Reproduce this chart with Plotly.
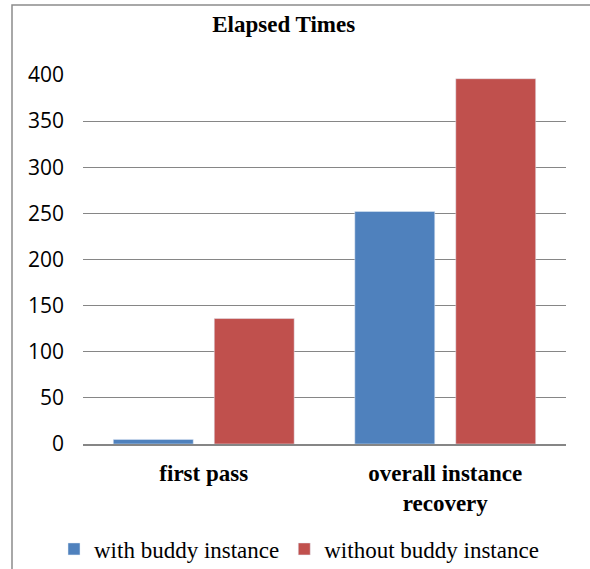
import plotly.graph_objects as go

categories = ["first pass", "overall instance recovery"]
category_labels = ["first pass", "overall instance<br>recovery"]
with_buddy = [5, 252]
without_buddy = [136, 396]
y_ticks = [0, 50, 100, 150, 200, 250, 300, 350, 400]

W, H = 590, 569
L, R, T, B = 83, 24, 75, 125
pw = W - L - R
ph = H - T - B

def px_x(x):
    return (x - L) / pw

def px_y(y):
    return (H - B - y) / ph

fig = go.Figure()
fig.add_trace(go.Bar(name="with buddy instance", x=categories, y=with_buddy,
                     marker=dict(color="#4F81BD")))
fig.add_trace(go.Bar(name="without buddy instance", x=categories, y=without_buddy,
                     marker=dict(color="#C0504D")))

fig.update_layout(
    width=W, height=H,
    margin=dict(l=L, r=R, t=T, b=B, autoexpand=False),
    paper_bgcolor="white", plot_bgcolor="white",
    barmode="group", bargap=0.164, bargroupgap=0.208,
    title=dict(text="Elapsed Times", x=283.7 / W, xanchor="center",
               xref="container", y=1 - 24 / H, yanchor="middle", yref="container",
               font=dict(family="Liberation Serif", size=23, color="black", weight="bold")),
    showlegend=True,
    legend=dict(orientation="h", xref="paper", x=px_x(54), xanchor="left",
                yref="paper", y=px_y(549), yanchor="middle",
                font=dict(family="Liberation Serif", size=23, color="black"),
                itemwidth=30, traceorder="normal", bgcolor="rgba(0,0,0,0)"),
    xaxis=dict(tickmode="array", tickvals=categories, ticktext=category_labels,
               tickfont=dict(family="Liberation Serif", size=23, color="black", weight="bold"),
               showline=True, linecolor="#868686", linewidth=1.5,
               ticks="", showgrid=False, ticklabelstandoff=8),
    yaxis=dict(range=[0, 400], tickmode="array", tickvals=y_ticks,
               tickfont=dict(family="Open Sans", size=21, color="black"),
               showgrid=True, gridcolor="#868686", gridwidth=1.3,
               zeroline=False, showline=False, ticks="", ticklabelstandoff=18),
    shapes=[dict(type="rect", xref="paper", yref="paper",
                 x0=px_x(12), x1=px_x(620), y0=px_y(5), y1=px_y(600),
                 line=dict(color="#8c8c8c", width=1.5), fillcolor="rgba(0,0,0,0)",
                 layer="below")],
)

fig.write_html("out.html", config={"displayModeBar": False},
               post_script="document.body.style.margin='0';")
